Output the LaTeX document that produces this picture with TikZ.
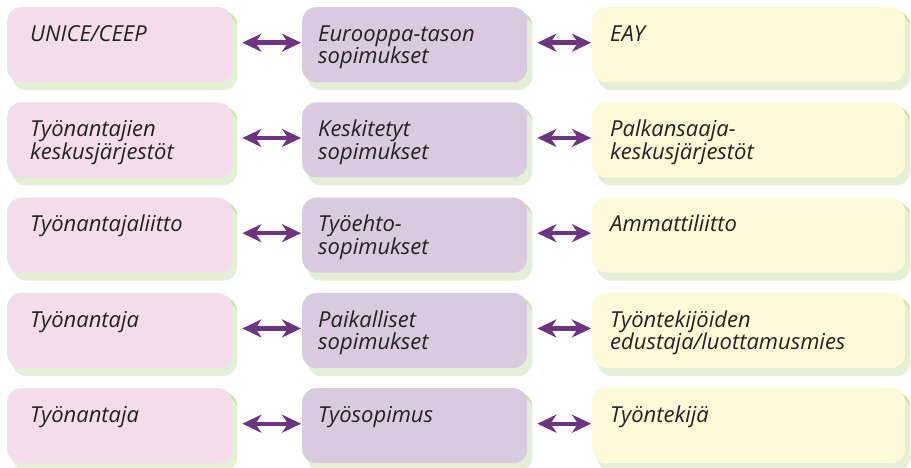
\documentclass[tikz,border=0pt]{standalone}
\usepackage{fontspec}
\setmainfont{Open Sans}
\usetikzlibrary{arrows.meta}
\definecolor{pinkbox}{HTML}{F4DCEA}
\definecolor{purplebox}{HTML}{D9CAE0}
\definecolor{yellowbox}{HTML}{FEF9D7}
\definecolor{shadelight}{HTML}{E4EFD6}
\definecolor{shadedark}{HTML}{CBE3AE}
\definecolor{arrowpurple}{HTML}{6D3482}
\definecolor{textgray}{HTML}{222222}
\newcommand{\twolines}[2]{\vtop{\hbox{#1}\hbox{#2}}}
\tikzset{
  box/.style={draw=none, rectangle, rounded corners=14pt, minimum height=75pt, inner sep=0pt, anchor=north west,
    preaction={fill=shadedark, transform canvas={shift={(5pt,-4pt)}}},
    preaction={fill=shadelight, transform canvas={shift={(5pt,-8pt)}}}},
  lbox/.style={box, fill=pinkbox, minimum width=225pt},
  mbox/.style={box, fill=purplebox, minimum width=225pt},
  rbox/.style={box, fill=yellowbox, minimum width=313pt},
  txt/.style={anchor=base west, inner sep=0pt, text=textgray, font=\fontsize{22}{22.5}\selectfont\itshape},
  dbl/.style={{Stealth[length=19pt,width=18pt,inset=6pt]}-{Stealth[length=19pt,width=18pt,inset=6pt]}, line width=4.4pt, draw=arrowpurple, shorten <=5pt, shorten >=1pt}
}
\begin{document}
\begin{tikzpicture}[x=1pt,y=-1pt]
\useasboundingbox[fill=white] (0,0) rectangle (911,468);
\foreach \i/\y in {1/7,2/102.25,3/197.5,4/292.75,5/388}{
  \node[lbox] (l\i) at (7,\y) {};
  \node[mbox] (m\i) at (302,\y) {};
  \node[rbox] (r\i) at (592,\y) {};
  \draw[dbl] ([xshift=5pt,yshift=2pt]l\i.east) -- ([yshift=2pt]m\i.west);
  \draw[dbl] ([xshift=5pt,yshift=2pt]m\i.east) -- ([yshift=2pt]r\i.west);
}
\node[txt] (tl1) at ([xshift=23pt,yshift=-34.5pt]l1.north west) {UNICE/CEEP};
\node[txt] (tm1) at ([xshift=16pt,yshift=-34.5pt]m1.north west) {\twolines{Eurooppa-tason}{sopimukset}};
\node[txt] (tr1) at ([xshift=18pt,yshift=-34.5pt]r1.north west) {EAY};
\node[txt] (tl2) at ([xshift=23pt,yshift=-34.5pt]l2.north west) {\twolines{Työnantajien}{keskusjärjestöt}};
\node[txt] (tm2) at ([xshift=16pt,yshift=-34.5pt]m2.north west) {\twolines{Keskitetyt}{sopimukset}};
\node[txt] (tr2) at ([xshift=18pt,yshift=-34.5pt]r2.north west) {\twolines{Palkansaaja-}{keskusjärjestöt}};
\node[txt] (tl3) at ([xshift=23pt,yshift=-34.5pt]l3.north west) {Työnantajaliitto};
\node[txt] (tm3) at ([xshift=16pt,yshift=-34.5pt]m3.north west) {\twolines{Työehto-}{sopimukset}};
\node[txt] (tr3) at ([xshift=18pt,yshift=-34.5pt]r3.north west) {Ammattiliitto};
\node[txt] (tl4) at ([xshift=23pt,yshift=-34.5pt]l4.north west) {Työnantaja};
\node[txt] (tm4) at ([xshift=16pt,yshift=-34.5pt]m4.north west) {\twolines{Paikalliset}{sopimukset}};
\node[txt] (tr4) at ([xshift=18pt,yshift=-34.5pt]r4.north west) {\twolines{Työntekijöiden}{edustaja/luottamusmies}};
\node[txt] (tl5) at ([xshift=23pt,yshift=-34.5pt]l5.north west) {Työnantaja};
\node[txt] (tm5) at ([xshift=16pt,yshift=-34.5pt]m5.north west) {Työsopimus};
\node[txt] (tr5) at ([xshift=18pt,yshift=-34.5pt]r5.north west) {Työntekijä};
\end{tikzpicture}
\end{document}
